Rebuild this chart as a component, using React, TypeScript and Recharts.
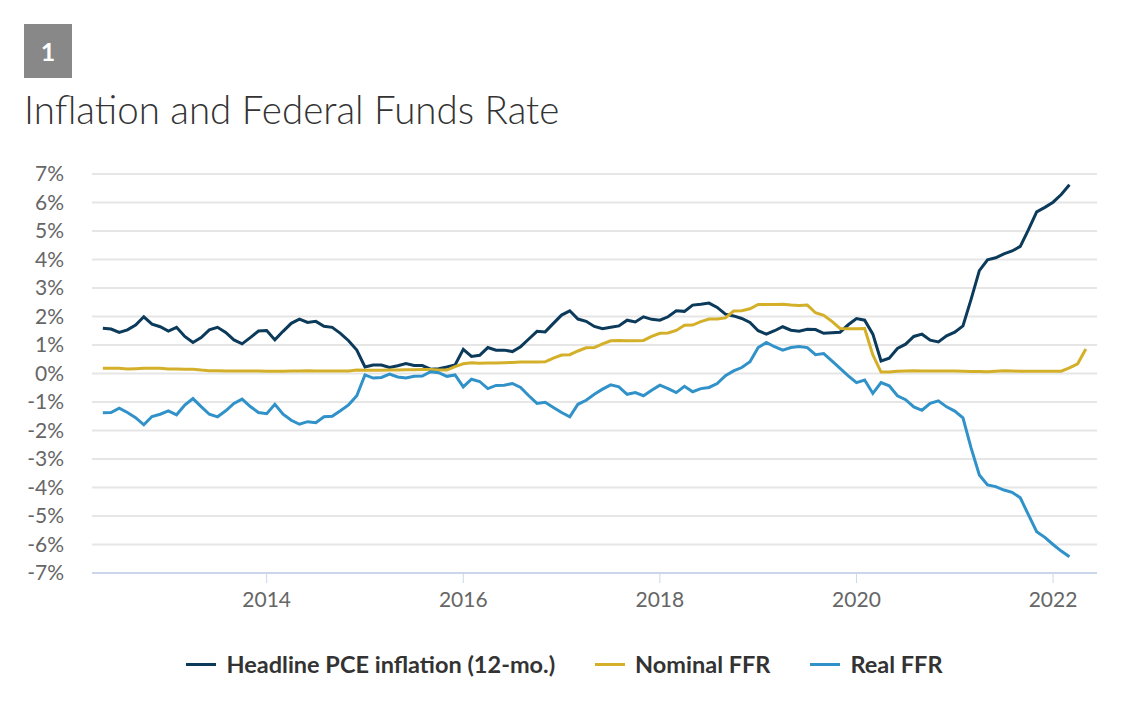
import React from "react";
import { LineChart, Line, XAxis, YAxis, CartesianGrid, Legend } from "recharts";

const startYear = 2012;
const startMonth = 5; // May 2012

// Headline PCE inflation (12-mo.), May 2012 - Mar 2022
const pce = [
  1.59, 1.56, 1.44, 1.53, 1.70, 1.99, 1.73, 1.64,
  1.49, 1.62, 1.30, 1.09, 1.26, 1.53, 1.62, 1.44, 1.18, 1.04, 1.26, 1.49,
  1.51, 1.18, 1.48, 1.76, 1.91, 1.79, 1.83, 1.66, 1.62, 1.41, 1.15, 0.82,
  0.23, 0.30, 0.30, 0.21, 0.27, 0.35, 0.28, 0.28, 0.15, 0.17, 0.23, 0.30,
  0.85, 0.60, 0.64, 0.91, 0.82, 0.82, 0.77, 0.94, 1.21, 1.48, 1.46, 1.76,
  2.05, 2.20, 1.91, 1.83, 1.65, 1.57, 1.62, 1.67, 1.87, 1.81, 1.99, 1.90,
  1.87, 1.99, 2.20, 2.18, 2.40, 2.43, 2.47, 2.32, 2.08, 2.02, 1.93, 1.79,
  1.50, 1.38, 1.50, 1.64, 1.52, 1.48, 1.55, 1.54, 1.41, 1.43, 1.45, 1.71,
  1.93, 1.87, 1.38, 0.44, 0.54, 0.88, 1.03, 1.30, 1.38, 1.17, 1.11, 1.32,
  1.45, 1.67, 2.61, 3.61, 3.99, 4.06, 4.20, 4.30, 4.46, 5.05, 5.67, 5.83,
  6.01, 6.28, 6.62,
];

// Nominal FFR, May 2012 - May 2022
const nominal = [
  0.18, 0.18, 0.18, 0.16, 0.17, 0.18, 0.18, 0.18,
  0.16, 0.16, 0.15, 0.15, 0.12, 0.10, 0.10, 0.09, 0.09, 0.09, 0.09, 0.09,
  0.08, 0.08, 0.08, 0.09, 0.09, 0.10, 0.09, 0.09, 0.09, 0.09, 0.09, 0.12,
  0.11, 0.11, 0.11, 0.12, 0.12, 0.13, 0.13, 0.14, 0.14, 0.12, 0.12, 0.24,
  0.34, 0.38, 0.36, 0.37, 0.37, 0.38, 0.39, 0.40, 0.40, 0.40, 0.41, 0.54,
  0.65, 0.66, 0.79, 0.90, 0.91, 1.04, 1.15, 1.16, 1.15, 1.15, 1.16, 1.30,
  1.41, 1.42, 1.51, 1.69, 1.70, 1.82, 1.91, 1.91, 1.95, 2.19, 2.20, 2.27,
  2.42, 2.42, 2.42, 2.43, 2.40, 2.39, 2.40, 2.13, 2.04, 1.83, 1.58, 1.57,
  1.57, 1.58, 0.65, 0.05, 0.05, 0.08, 0.09, 0.10, 0.09, 0.09, 0.09, 0.09,
  0.09, 0.08, 0.07, 0.07, 0.06, 0.08, 0.10, 0.09, 0.08, 0.08, 0.08, 0.08,
  0.08, 0.08, 0.20, 0.34, 0.86,
];

// Real FFR, May 2012 - Mar 2022
const real = [
  -1.38, -1.37, -1.22, -1.37, -1.55, -1.80, -1.51, -1.43,
  -1.31, -1.45, -1.11, -0.88, -1.16, -1.43, -1.52, -1.31, -1.05, -0.90, -1.16, -1.37,
  -1.41, -1.08, -1.43, -1.64, -1.78, -1.69, -1.73, -1.52, -1.50, -1.31, -1.10, -0.78,
  -0.05, -0.16, -0.14, -0.02, -0.12, -0.16, -0.10, -0.09, 0.06, 0.03, -0.10, -0.05,
  -0.47, -0.20, -0.28, -0.53, -0.42, -0.41, -0.35, -0.49, -0.78, -1.05, -1.01, -1.19,
  -1.37, -1.52, -1.08, -0.94, -0.73, -0.55, -0.40, -0.47, -0.73, -0.67, -0.78, -0.59,
  -0.41, -0.53, -0.67, -0.45, -0.64, -0.53, -0.49, -0.35, -0.08, 0.09, 0.21, 0.41,
  0.91, 1.09, 0.94, 0.82, 0.91, 0.95, 0.91, 0.66, 0.70, 0.44, 0.18, -0.08,
  -0.32, -0.23, -0.70, -0.32, -0.43, -0.78, -0.92, -1.17, -1.29, -1.05, -0.96, -1.17,
  -1.32, -1.56, -2.62, -3.56, -3.91, -3.97, -4.09, -4.17, -4.36, -4.96, -5.55, -5.75,
  -6.00, -6.23, -6.43,
];

const xTicks = [2014, 2016, 2018, 2020, 2022];
const yTicks = [-7, -6, -5, -4, -3, -2, -1, 0, 1, 2, 3, 4, 5, 6, 7];

const data = nominal.map((n, i) => ({
  t: startYear + (startMonth - 1 + i) / 12,
  pce: i < pce.length ? pce[i] : null,
  nominal: n,
  real: i < real.length ? real[i] : null,
}));

const FONT = "Lato, 'Open Sans', 'Noto Sans', sans-serif";

const LegendContent = (props: any) => {
  const payload = props.payload || [];
  return (
    <div
      style={{
        display: "flex",
        justifyContent: "center",
        alignItems: "center",
        gap: 40,
        fontFamily: FONT,
        fontWeight: 700,
        fontSize: 23.5,
        lineHeight: "28px",
        color: "#333333",
      }}
    >
      {payload.map((p: any) => (
        <div key={p.value} style={{ display: "flex", alignItems: "center" }}>
          <span
            style={{
              display: "inline-block",
              width: 30,
              height: 3,
              background: p.color,
              marginRight: 10,
            }}
          />
          <span>{p.value}</span>
        </div>
      ))}
    </div>
  );
};

export default function App() {
  return (
    <div
      style={{
        position: "absolute",
        left: 0,
        top: 0,
        width: 1129,
        height: 704,
        background: "#ffffff",
        fontFamily: FONT,
      }}
    >
      <div
        style={{
          position: "absolute",
          left: 24,
          top: 24,
          width: 48,
          height: 54,
          background: "#888888",
          color: "#ffffff",
          fontWeight: 700,
          fontSize: 25,
          display: "flex",
          alignItems: "center",
          justifyContent: "center",
        }}
      >
        1
      </div>
      <div
        style={{
          position: "absolute",
          left: 24,
          top: 86,
          fontSize: 38.5,
          fontWeight: 300,
          color: "#333333",
          whiteSpace: "nowrap",
        }}
      >
        Inflation and Federal Funds Rate
      </div>
      <div style={{ position: "absolute", left: 0, top: 0 }}>
        <LineChart
          width={1129}
          height={704}
          data={data}
          margin={{ top: 174, right: 32, bottom: 101, left: 0 }}
        >
          <CartesianGrid vertical={false} stroke="#e6e6e6" strokeWidth={2} />
          <XAxis
            dataKey="t"
            type="number"
            domain={[2012.223, 2022.447]}
            ticks={xTicks}
            interval={0}
            allowDataOverflow
            height={30}
            axisLine={{ stroke: "#ccd6eb", strokeWidth: 2 }}
            tickLine={{ stroke: "#ccd6eb", strokeWidth: 1 }}
            tickSize={10}
            tickMargin={9}
            tick={{ fill: "#666666", fontSize: 21, fontFamily: FONT }}
          />
          <YAxis
            type="number"
            domain={[-7, 7]}
            ticks={yTicks}
            interval={0}
            width={92}
            axisLine={false}
            tickLine={false}
            tickSize={0}
            tickMargin={28}
            tickFormatter={(v: number) => `${v}%`}
            tick={{ fill: "#666666", fontSize: 21, fontFamily: FONT }}
          />
          <Legend
            verticalAlign="middle"
            align="center"
            layout="horizontal"
            content={<LegendContent />}
            wrapperStyle={{ top: 650, left: 0, width: 1129 }}
          />
          <Line
            type="linear"
            dataKey="pce"
            name="Headline PCE inflation (12-mo.)"
            stroke="#0b3a5a"
            strokeWidth={3}
            dot={false}
            isAnimationActive={false}
            connectNulls={false}
          />
          <Line
            type="linear"
            dataKey="nominal"
            name="Nominal FFR"
            stroke="#d4b02a"
            strokeWidth={3}
            dot={false}
            isAnimationActive={false}
          />
          <Line
            type="linear"
            dataKey="real"
            name="Real FFR"
            stroke="#3092c8"
            strokeWidth={3}
            dot={false}
            isAnimationActive={false}
          />
        </LineChart>
      </div>
    </div>
  );
}
